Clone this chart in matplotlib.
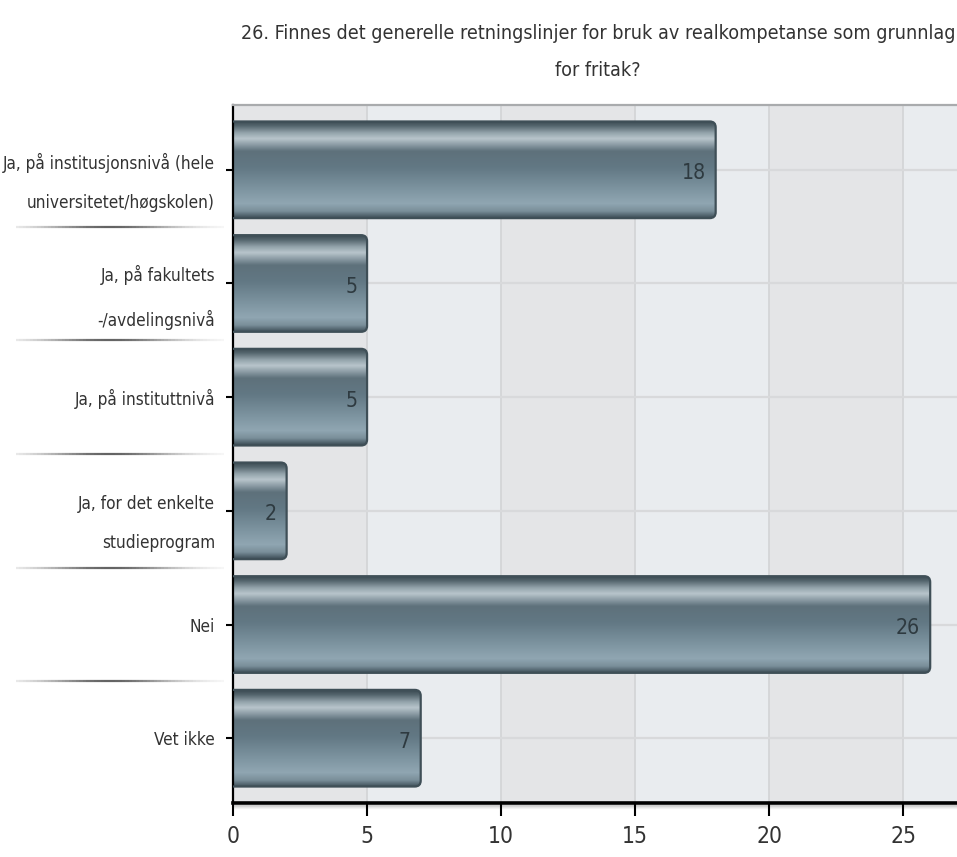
import os
import numpy as np
import matplotlib
matplotlib.use("Agg")
import matplotlib.pyplot as plt
from matplotlib import font_manager
from matplotlib.font_manager import FontProperties
from matplotlib.patches import FancyBboxPatch
from matplotlib.colors import LinearSegmentedColormap

# ---- data ----
categories = [
    "Ja, på institusjonsnivå (hele\nuniversitetet/høgskolen)",
    "Ja, på fakultets\n-/avdelingsnivå",
    "Ja, på instituttnivå",
    "Ja, for det enkelte\nstudieprogram",
    "Nei",
    "Vet ikke",
]
values = [18, 5, 5, 2, 26, 7]
xticks = [0, 5, 10, 15, 20, 25]
title = "26. Finnes det generelle retningslinjer for bruk av realkompetanse som grunnlag\nfor fritak?"

# ---- pick the narrowest installed sans font ----
prefs = ["LiberationSansNarrow-Regular", "LiberationSansNarrow",
         "NotoSans-ExtraCondensed.", "NotoSans-ExtraCondensedRegular",
         "NotoSans-Condensed.", "NotoSans-CondensedRegular",
         "NotoSans-SemiCondensed.", "DejaVuSansCondensed."]
files = [f.fname for f in font_manager.fontManager.ttflist]
chosen = None
for p in prefs:
    for fn in files:
        if p in os.path.basename(fn):
            chosen = fn
            break
    if chosen:
        break
if chosen:
    FP = FontProperties(fname=chosen)
else:
    FP = FontProperties(family="DejaVu Sans", stretch="condensed")
TXT = "#333333"

fig = plt.figure(figsize=(9.57, 8.57), dpi=100)
fig.canvas.draw()
R = fig.canvas.get_renderer()


def width_px(s, size, **kw):
    fp = FP.copy()
    fp.set_size(size)
    t = fig.text(0, 0, s, fontproperties=fp, **kw)
    w = t.get_window_extent(R)
    t.remove()
    return w


def fit_size(s, target):
    return 10.0 * target / width_px(s, 10).width


def fit_spacing(s2, size, pitch):
    one = width_px(s2.split("\n")[0], size).height
    two = width_px(s2, size, linespacing=1.5).height
    return 1.5 * pitch / max(two - one, 1)


title_size = fit_size(title.split("\n")[0], 712)
cat_size = fit_size("Ja, på institusjonsnivå (hele", 212)
val_size = fit_size("26", 24)
tick_size = fit_size("10", 26)
title_ls = fit_spacing(title, title_size, 39)
cat_ls = fit_spacing(categories[0], cat_size, 42)


def fp_size(s):
    f = FP.copy()
    f.set_size(s)
    return f


ax = fig.add_axes([233 / 957, 1 - 803 / 857, 724 / 957, 698 / 857])

XMAX = 27.0
YLO, YHI = -0.57, len(categories) - 1 + 0.57
ax.set_xlim(0, XMAX)
ax.set_ylim(YHI, YLO)
ax.set_facecolor("#e9ecef")

# background bands
for i, x0 in enumerate(range(0, 30, 5)):
    if i % 2 == 0:
        ax.axvspan(x0, x0 + 5, color="#e4e5e7", zorder=0, lw=0)

# grid
for t in xticks[1:]:
    ax.axvline(t, color="#d2d3d5", lw=1.2, zorder=0.5)
for yi in range(len(categories)):
    ax.axhline(yi, color="#d8d9db", lw=1.6, zorder=0.5)

# bars with gradient
stops = [(0.0, "#3a4951"), (0.05, "#56676f"), (0.12, "#93a3ab"), (0.18, "#b8c5cb"),
         (0.24, "#8e9ea7"), (0.31, "#5e717b"), (0.48, "#627884"), (0.70, "#7d94a0"),
         (0.85, "#90a6b2"), (0.93, "#7a8f9a"), (1.0, "#3d4d56")]
cmap = LinearSegmentedColormap.from_list("bar", stops)
grad = np.linspace(0, 1, 256).reshape(-1, 1)

H = 0.85
px_x = 724 / XMAX
px_y = 698 / (YHI - YLO)
aspect = px_x / px_y
for yi, v in enumerate(values):
    x0 = -0.6
    patch = FancyBboxPatch((x0, yi - H / 2), v - x0, H,
                           boxstyle="round,pad=0,rounding_size=0.22",
                           mutation_aspect=aspect, facecolor="none",
                           edgecolor="#3f4f57", lw=1.6, zorder=3)
    ax.add_patch(patch)
    im = ax.imshow(grad, cmap=cmap, aspect="auto", origin="upper",
                   extent=(x0, v, yi + H / 2, yi - H / 2), zorder=2,
                   interpolation="bilinear")
    im.set_clip_path(patch)
    ax.text(v - 0.37, yi + 0.03, str(v), ha="right", va="center",
            fontproperties=fp_size(val_size), color="#2e3a40", zorder=4)

ax.set_xlim(0, XMAX)
ax.set_ylim(YHI, YLO)

# axes styling
ax.set_xticks(xticks)
ax.set_xticklabels([str(t) for t in xticks], fontproperties=fp_size(tick_size))
ax.set_yticks(range(len(categories)))
ax.set_yticklabels(categories, fontproperties=fp_size(cat_size), linespacing=cat_ls)
ax.tick_params(axis="x", direction="out", length=9, width=1.5, color="black",
               labelcolor=TXT, pad=7)
ax.tick_params(axis="y", direction="out", length=5, width=1.5, color="black",
               labelcolor=TXT, pad=8)
ax.spines["right"].set_visible(False)
ax.spines["left"].set_linewidth(1.6)
ax.spines["left"].set_color("black")
ax.spines["bottom"].set_linewidth(2.6)
ax.spines["bottom"].set_color("black")
ax.spines["top"].set_linewidth(1.6)
ax.spines["top"].set_color("#a9abad")

# shadow under bottom axis
for k, a in enumerate([0.18, 0.12, 0.07, 0.04]):
    ax.plot([0, 1], [-(k + 2) / 698, -(k + 2) / 698], transform=ax.transAxes,
            color="black", alpha=a, lw=1, clip_on=False, zorder=1)

# separators in the label area
xs = np.linspace(-0.30, -0.012, 60)
for b in range(1, len(categories)):
    yb = b - 0.5
    yf = 1 - (yb - YLO) / (YHI - YLO)
    for i in range(len(xs) - 1):
        m = (xs[i] + xs[i + 1]) / 2
        t = (m - xs[0]) / (xs[-1] - xs[0])
        a = 0.75 * np.exp(-((t - 0.45) / 0.32) ** 2)
        ax.plot([xs[i], xs[i + 1]], [yf, yf], transform=ax.transAxes,
                color="#303030", alpha=a, lw=1.6, clip_on=False,
                solid_capstyle="butt")

fig.text(0.625, 1 - 52 / 857, title, ha="center", va="center",
         fontproperties=fp_size(title_size), color=TXT, linespacing=title_ls)

fig.savefig("out.png", dpi=100, facecolor="white")
